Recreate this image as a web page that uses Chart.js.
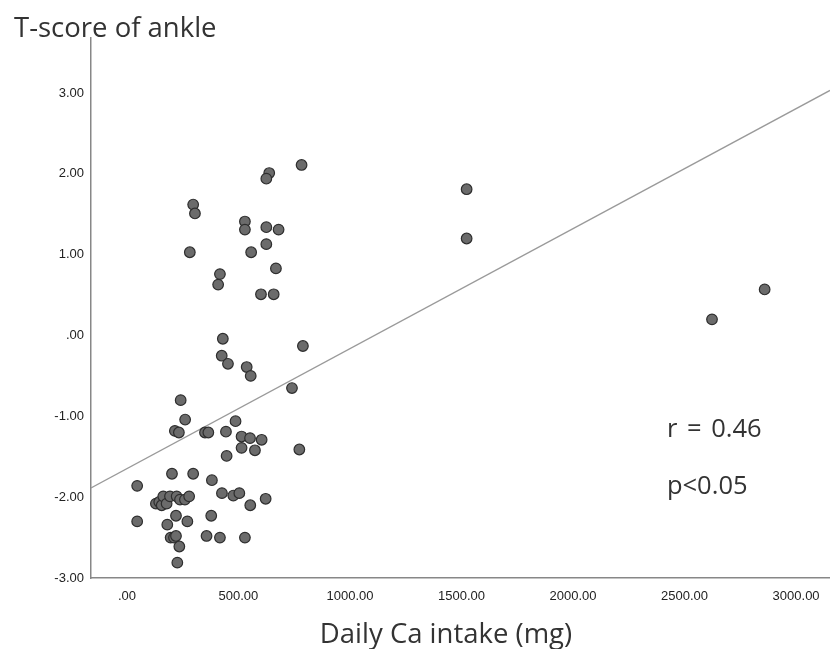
<!DOCTYPE html>
<html>
<head>
<meta charset="utf-8">
<script src="https://cdn.jsdelivr.net/npm/chart.js@4.4.1/dist/chart.umd.min.js"></script>
<style>
  body { margin: 0; background: #fff; }
  #wrap { width: 830px; height: 649px; }
</style>
</head>
<body>
<div id="wrap"><canvas id="chartCa" width="830" height="649"></canvas></div>
<script>
// daily calcium intake (mg) and ankle T-score, one entry per subject
var caIntake = [783, 638, 625, 297, 305, 529, 529, 625, 680, 625, 282, 557,
  668, 417, 409, 601, 658, 430, 789, 425, 453, 537, 555, 740,
  241, 261, 215, 233, 350, 365, 444, 487, 514, 552, 604, 514, 574, 447, 773,
  46, 202, 297, 381, 426, 477, 504, 622, 553,
  130, 145, 156, 163, 178, 193, 223, 238, 260, 279,
  46, 220, 181, 271, 378, 196, 211, 220, 357, 417, 529, 235, 226,
  1523, 1523, 2623, 2859];
var tScore = [2.11, 2.01, 1.94, 1.62, 1.51, 1.41, 1.31, 1.34, 1.31, 1.13, 1.03, 1.03,
  0.83, 0.76, 0.63, 0.51, 0.51, -0.04, -0.13, -0.25, -0.35, -0.39, -0.50, -0.65,
  -0.80, -1.04, -1.18, -1.20, -1.20, -1.20, -1.19, -1.06, -1.25, -1.27, -1.29, -1.39, -1.42, -1.49, -1.41,
  -1.86, -1.71, -1.71, -1.79, -1.95, -1.98, -1.95, -2.02, -2.10,
  -2.08, -2.06, -2.10, -1.99, -2.08, -1.99, -1.99, -2.03, -2.03, -1.99,
  -2.30, -2.23, -2.34, -2.30, -2.23, -2.50, -2.50, -2.48, -2.48, -2.50, -2.50, -2.61, -2.81,
  1.81, 1.20, 0.20, 0.57];

var xTicks = [0, 500, 1000, 1500, 2000, 2500, 3000];
var yTicks = [-3, -2, -1, 0, 1, 2, 3];

// fit line
var fitIntercept = -1.647;
var fitSlope = 0.0014846;

var statText = ["r = 0.46", "p<0.05"];
var xTitle = "Daily Ca intake (mg)";
var yTitle = "T-score of ankle";

var xMin = -161, xMax = 3152;
var yMin = -3, yMax = 3.68;

function fmt(v) {
  var s = Math.abs(v).toFixed(2);
  if (s.charAt(0) == "0") s = s.slice(1);
  return (v < 0 ? "-" : "") + s;
}

var pts = [];
for (var i = 0; i < caIntake.length; i++) {
  pts.push({x: caIntake[i], y: tScore[i]});
}

var fitPts = [
  {x: xMin, y: fitIntercept + fitSlope * xMin},
  {x: xMax, y: fitIntercept + fitSlope * xMax}
];

var textNotes = {
  id: "textNotes",
  afterDraw: function (chart) {
    var ctx = chart.ctx;
    var xs = chart.scales.x, ys = chart.scales.y;
    ctx.save();
    ctx.fillStyle = "#333";
    ctx.font = "27.5px 'Open Sans'";
    ctx.textAlign = "center";
    ctx.textBaseline = "alphabetic";
    ctx.fillText(xTitle, 446, 643);

    ctx.font = "25.5px 'Open Sans'";
    ctx.textAlign = "left";
    if ("wordSpacing" in ctx) ctx.wordSpacing = "3px";
    ctx.fillText(statText[0], xs.getPixelForValue(2421), ys.getPixelForValue(-1.26));
    ctx.fillText(statText[1], xs.getPixelForValue(2421), ys.getPixelForValue(-1.955));
    ctx.restore();
  }
};

var tickFont = {family: "'Liberation Sans', Arial", size: 13};

new Chart(document.getElementById("chartCa"), {
  type: "scatter",
  data: {
    datasets: [{
      type: "scatter",
      data: pts,
      backgroundColor: "#6b6b6b",
      borderColor: "#2e2e2e",
      borderWidth: 1.2,
      pointRadius: 5.3,
      order: 1
    }, {
      type: "line",
      data: fitPts,
      borderColor: "#9a9a9a",
      borderWidth: 1.3,
      pointRadius: 0,
      fill: false,
      order: 2
    }]
  },
  options: {
    responsive: false,
    animation: false,
    layout: {autoPadding: false, padding: {left: 14, right: 0, top: 0, bottom: 0}},
    plugins: {
      legend: {display: false},
      tooltip: {enabled: false},
      title: {
        display: true,
        text: yTitle,
        align: "start",
        color: "#333",
        font: {family: "'Open Sans'", size: 27.5, weight: "normal", lineHeight: 0.62},
        padding: {top: 21, bottom: 0}
      }
    },
    scales: {
      x: {
        type: "linear",
        position: "bottom",
        min: xMin,
        max: xMax,
        grid: {display: false, drawTicks: false},
        border: {color: "#878787", width: 1.5},
        ticks: {font: tickFont, color: "#222", padding: 11, autoSkip: false, maxRotation: 0, callback: fmt},
        afterBuildTicks: function (s) { s.ticks = xTicks.map(function (v) { return {value: v}; }); },
        afterFit: function (s) { s.height = 71; s.paddingLeft = 0; s.paddingRight = 0; }
      },
      y: {
        type: "linear",
        min: yMin,
        max: yMax,
        grid: {display: false, drawTicks: false},
        border: {color: "#878787", width: 1.5},
        ticks: {font: tickFont, color: "#222", padding: 7, autoSkip: false, callback: fmt},
        afterBuildTicks: function (s) { s.ticks = yTicks.map(function (v) { return {value: v}; }); },
        afterFit: function (s) { s.width = 77; s.paddingTop = 0; s.paddingBottom = 0; }
      }
    }
  },
  plugins: [textNotes]
});
</script>
</body>
</html>
